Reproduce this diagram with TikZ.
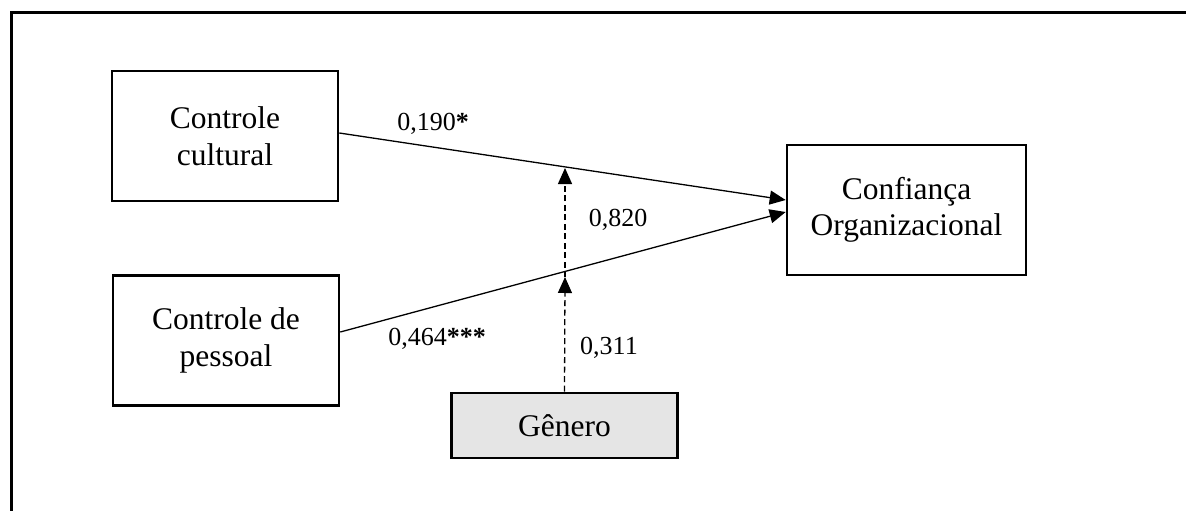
\documentclass[tikz,border=0pt]{standalone}
\usepackage{fontspec}
\setmainfont{Liberation Serif}
\usetikzlibrary{arrows.meta,calc}
\definecolor{boxgray}{HTML}{E5E5E5}
\tikzset{
  varbox/.style={draw=black,line width=2.6pt,minimum width=226pt,minimum height=130pt,align=center,inner sep=0pt,font=\fontsize{31.5}{36.5}\selectfont},
  modbox/.style={varbox,fill=boxgray,minimum height=65pt},
  coef/.style={font=\fontsize{26}{30}\selectfont,inner sep=0pt},
  path/.style={line width=1.3pt,-{Triangle[length=16pt,width=14pt]}},
  modpath/.style={path,dash pattern=on 6pt off 3.5pt}
}
\begin{document}
\begin{tikzpicture}[x=1pt,y=-1pt]
\useasboundingbox (0,0) rectangle (1186,511);
\draw[line width=3pt] (1200,13) -- (11,13) -- (11,520);
\node[varbox] (cc) at (225,136) {Controle\\cultural};
\node[varbox] (cp) at (226,340.5) {Controle de\\pessoal};
\node[varbox,minimum width=239pt] (co) at (906.5,210) {Confiança\\Organizacional};
\node[modbox] (g) at (564.5,425.5) {Gênero};
\coordinate (m1) at (565,168);
\coordinate (m2) at (565,277);
\draw[path] ($(cc.east)+(0,-3)$) -- ($(co.west)+(0,-10)$);
\draw[path] ($(cp.east)+(0,-8.5)$) -- ($(co.west)+(0,2)$);
\draw[modpath] (g.north) -- (m2);
\draw[modpath] (m2) -- (m1);
\node[coef] (l1) at (433,124) {0,190\textbf{*}};
\node[coef] (l2) at (618,220) {0,820};
\node[coef] (l3) at (437,339) {0,464\textbf{***}};
\node[coef] (l4) at (609,348) {0,311};
\end{tikzpicture}
\end{document}
